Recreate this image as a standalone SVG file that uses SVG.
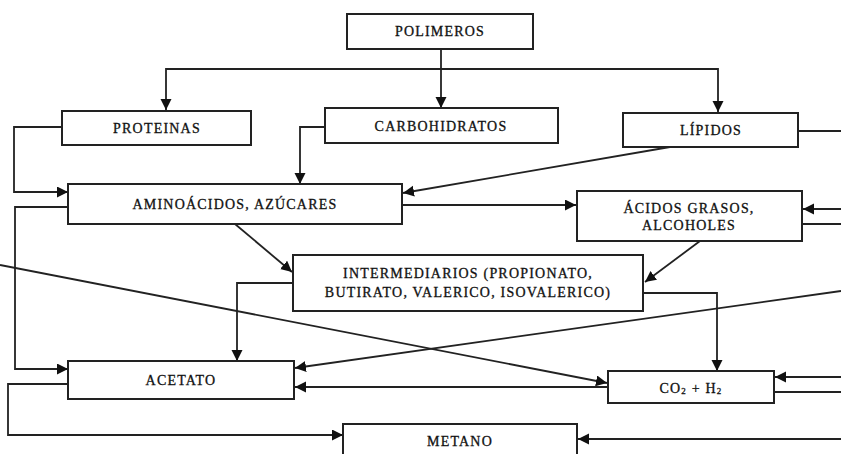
<svg xmlns="http://www.w3.org/2000/svg" width="841" height="454" viewBox="0 0 841 454">
<style>
.box{fill:#fff;stroke:#222;stroke-width:2}
.t{font-family:"Liberation Serif",serif;font-size:14px;letter-spacing:1.2px;fill:#111;text-anchor:middle;dominant-baseline:central;stroke:#111;stroke-width:0.3}
.c{fill:none;stroke:#222;stroke-width:1.8;marker-end:url(#a)}
.n{fill:none;stroke:#222;stroke-width:1.8}
</style>
<defs>
<marker id="a" markerUnits="userSpaceOnUse" markerWidth="12" markerHeight="12" refX="11" refY="5.5" orient="auto"><path d="M0,0 L11,5.5 L0,11 z" fill="#111"/></marker>
</defs>
<rect width="841" height="454" fill="#fff"/>
<g id="connectors">
<path class="c" d="M441,49 V108"/>
<path class="c" d="M441,69 H166 V110"/>
<path class="c" d="M441,69 H718 V112"/>
<path class="n" d="M798,131 H841"/>
<path class="c" d="M62,127 H14 V192 H68"/>
<path class="c" d="M325,127 H300 V184"/>
<path class="c" d="M670,147 L403,193"/>
<path class="c" d="M402,205 H576"/>
<path class="c" d="M841,209 H803"/>
<path class="n" d="M802,224 H841"/>
<path class="c" d="M235,224 L292,272"/>
<path class="c" d="M700,241 L645,282"/>
<path class="c" d="M68,207 H15 V369 H68"/>
<path class="c" d="M293,283 H237 V361"/>
<path class="c" d="M643,293 H717 V371"/>
<path class="c" d="M0,265 L607,383"/>
<path class="c" d="M841,291 L295,368"/>
<path class="c" d="M608,387 H295"/>
<path class="c" d="M841,377 H775"/>
<path class="n" d="M774,392 H841"/>
<path class="c" d="M68,384 H8 V435 H343"/>
<path class="c" d="M841,439 H578"/>
</g>
<g id="polimeros"><rect class="box" x="347" y="14" width="186" height="35"/><text class="t" x="440" y="31.5">POLIMEROS</text></g>
<g id="proteinas"><rect class="box" x="62" y="111" width="189" height="34"/><text class="t" x="157" y="128">PROTEINAS</text></g>
<g id="carbohidratos"><rect class="box" x="325" y="108" width="233" height="35"/><text class="t" x="441" y="126">CARBOHIDRATOS</text></g>
<g id="lipidos"><rect class="box" x="623" y="113" width="175" height="34"/><text class="t" x="711" y="130">LÍPIDOS</text></g>
<g id="aminoacidos"><rect class="box" x="68" y="184" width="334" height="40"/><text class="t" x="235" y="204">AMINOÁCIDOS, AZÚCARES</text></g>
<g id="acidos-grasos"><rect class="box" x="577" y="191" width="225" height="50"/><text class="t" x="689" y="208">ÁCIDOS GRASOS,</text><text class="t" x="689" y="225">ALCOHOLES</text></g>
<g id="intermediarios"><rect class="box" x="293" y="255" width="350" height="56"/><text class="t" x="468" y="273">INTERMEDIARIOS (PROPIONATO,</text><text class="t" x="468" y="292">BUTIRATO, VALERICO, ISOVALERICO)</text></g>
<g id="acetato"><rect class="box" x="68" y="361" width="226" height="38"/><text class="t" x="181" y="380">ACETATO</text></g>
<g id="co2h2"><rect class="box" x="608" y="371" width="166" height="32"/><text class="t" x="691" y="388">CO<tspan font-size="9" dy="3">2</tspan><tspan dy="-3"> + H</tspan><tspan font-size="9" dy="3">2</tspan></text></g>
<g id="metano"><rect class="box" x="343" y="424" width="234" height="40"/><text class="t" x="460" y="441">METANO</text></g>
</svg>
